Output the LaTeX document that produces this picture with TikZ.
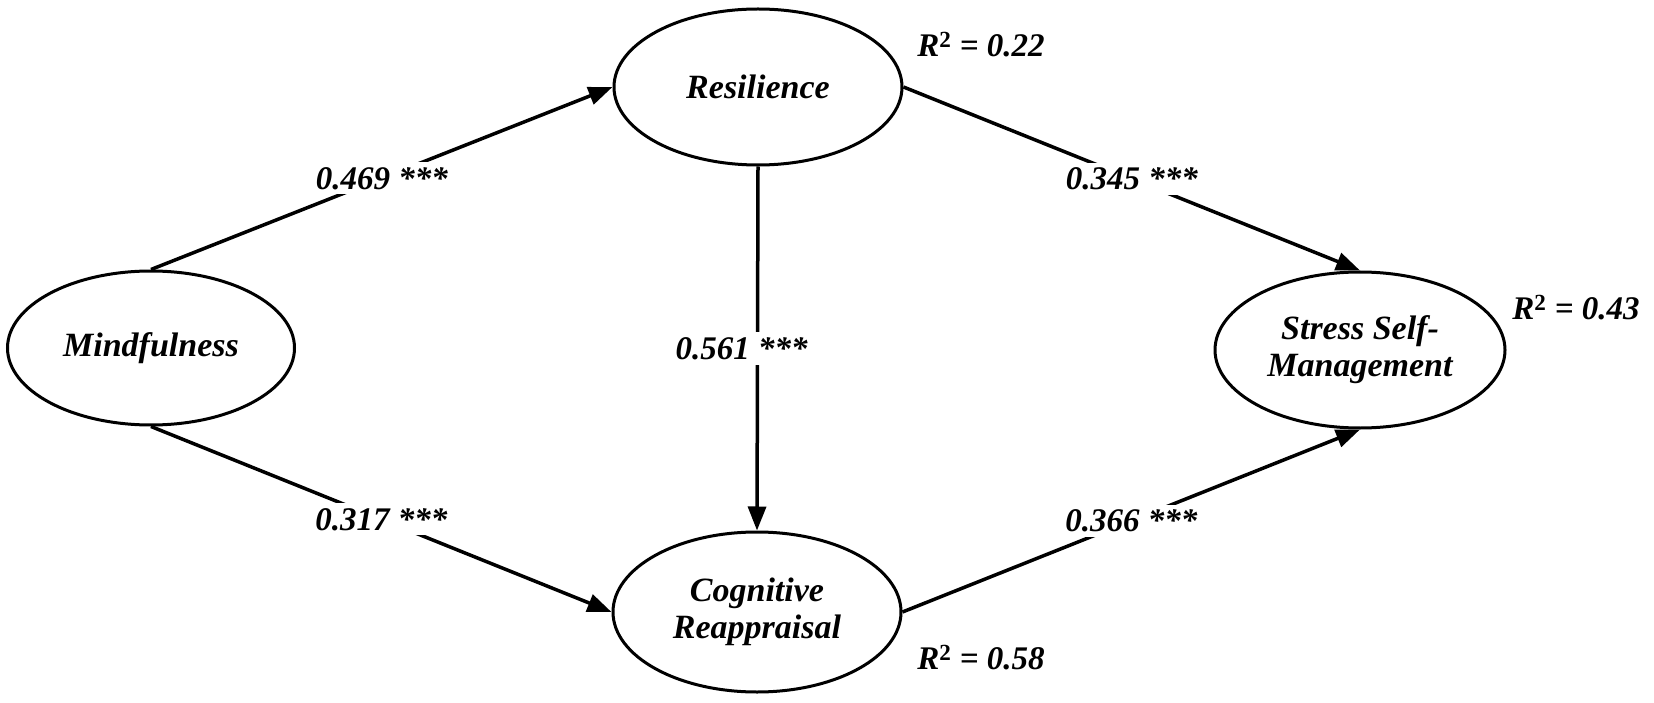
\documentclass[tikz,border=0pt]{standalone}
\usepackage{fontspec}
\setmainfont{Liberation Serif}
\usetikzlibrary{shapes.geometric,arrows.meta}
\begin{document}
\begin{tikzpicture}[x=1pt,y=-1pt,
  var/.style={draw, line width=3pt, ellipse, inner sep=0pt, align=center,
    font=\fontsize{34}{37}\selectfont\bfseries\itshape},
  conn/.style={line width=3.5pt, -{Triangle[length=24pt,width=18pt]}},
  lab/.style={fill=white, inner sep=5pt, font=\fontsize{33}{38}\selectfont\bfseries\itshape},
  rsq/.style={inner sep=0pt, font=\fontsize{33}{38}\selectfont\bfseries\itshape}]
\useasboundingbox (0,0) rectangle (1654,703);
\node[var, minimum width=287pt, minimum height=154pt] (mind) at (151,348) {Mindfulness};
\node[var, minimum width=288pt, minimum height=156pt] (res) at (758,87) {Resilience};
\node[var, minimum width=288pt, minimum height=160pt] (cog) at (757,612) {Cognitive\\Reappraisal};
\node[var, minimum width=290pt, minimum height=156pt] (ssm) at (1360,350) {Stress Self-\\Management};
\draw[conn] (mind.north) -- node[lab] {0.469 ***} (res.west);
\draw[conn] (mind.south) -- node[lab] {0.317 ***} (cog.west);
\draw[conn] (res.south) -- node[lab, xshift=-16pt] {0.561 ***} (cog.north);
\draw[conn] (res.east) -- node[lab] {0.345 ***} (ssm.north);
\draw[conn] (cog.east) -- node[lab] {0.366 ***} (ssm.south);
\node[rsq] (r1) at (981,45) {R\textsuperscript{\upshape 2} = 0.22};
\node[rsq] (r2) at (1576,308) {R\textsuperscript{\upshape 2} = 0.43};
\node[rsq] (r3) at (981,658) {R\textsuperscript{\upshape 2} = 0.58};
\end{tikzpicture}
\end{document}
